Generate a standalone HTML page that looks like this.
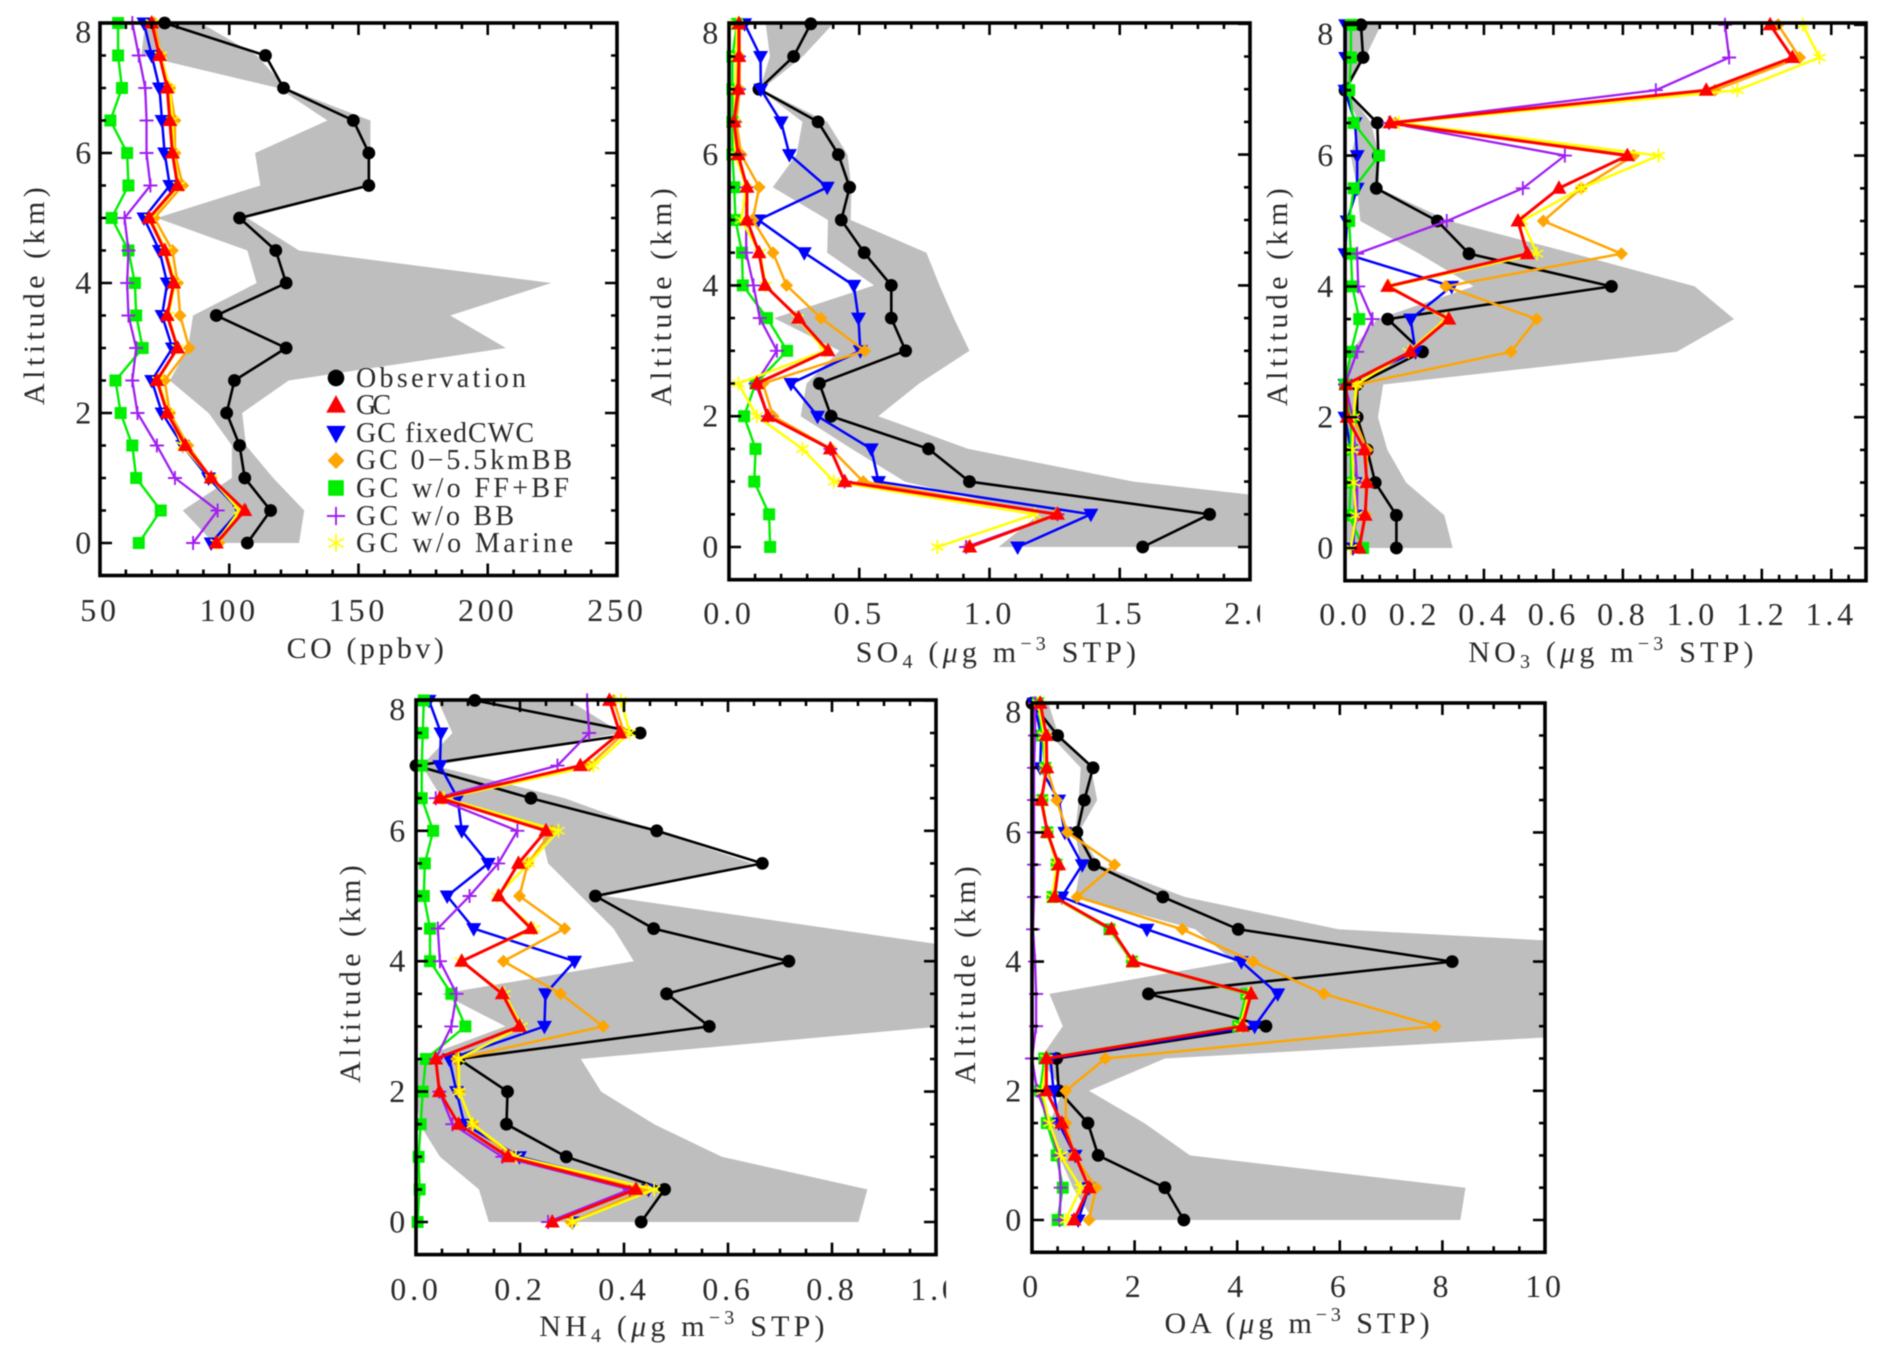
<!DOCTYPE html>
<html lang="en">
<head>
<meta charset="utf-8">
<title>Vertical profiles of CO, SO4, NO3, NH4 and OA</title>
<style>
  html, body { margin: 0; padding: 0; background: #fff; }
  #figure { display: block; filter: blur(0.45px); }
  text { font-family: "Liberation Serif", "DejaVu Serif", serif; fill: #2a2a2a; }
  .tick { font-size: 32px; letter-spacing: 3.8px; }
  .title { font-size: 30px; letter-spacing: 4.2px; }
  .legend { font-size: 28px; }
</style>
</head>
<body>
<svg id="figure" xmlns="http://www.w3.org/2000/svg" width="1892" height="1366" viewBox="0 0 1892 1366">
  <rect x="0" y="0" width="1892" height="1366" fill="#fff"/>
  <g id="panels"></g>

  <g>
    <text class="title" style="letter-spacing:3.5px" x="367" y="658" text-anchor="middle">CO (ppbv)</text>
    <text class="title" x="998" y="662" text-anchor="middle">SO<tspan font-size="20" dy="6">4</tspan><tspan dy="-6"> (</tspan><tspan font-style="italic">μ</tspan>g m<tspan font-size="20" dy="-12">−3</tspan><tspan dy="12"> STP)</tspan></text>
    <text class="title" x="1613" y="662" text-anchor="middle">NO<tspan font-size="20" dy="6">3</tspan><tspan dy="-6"> (</tspan><tspan font-style="italic">μ</tspan>g m<tspan font-size="20" dy="-12">−3</tspan><tspan dy="12"> STP)</tspan></text>
    <text class="title" x="684" y="1336" text-anchor="middle">NH<tspan font-size="20" dy="6">4</tspan><tspan dy="-6"> (</tspan><tspan font-style="italic">μ</tspan>g m<tspan font-size="20" dy="-12">−3</tspan><tspan dy="12"> STP)</tspan></text>
    <text class="title" style="letter-spacing:3.9px" x="1299" y="1333" text-anchor="middle">OA (<tspan font-style="italic">μ</tspan>g m<tspan font-size="20" dy="-12">−3</tspan><tspan dy="12"> STP)</tspan></text>
    <text class="title" transform="translate(44,294) rotate(-90)" text-anchor="middle" textLength="222">Altitude (km)</text>
    <text class="title" transform="translate(671,295) rotate(-90)" text-anchor="middle" textLength="222">Altitude (km)</text>
    <text class="title" transform="translate(1287,295) rotate(-90)" text-anchor="middle" textLength="222">Altitude (km)</text>
    <text class="title" transform="translate(360,972) rotate(-90)" text-anchor="middle" textLength="222">Altitude (km)</text>
    <text class="title" transform="translate(975,973) rotate(-90)" text-anchor="middle" textLength="222">Altitude (km)</text>
  </g>

  <g id="legend">
    <text class="legend" x="356" y="387" textLength="170">Observation</text>
    <text class="legend" x="356" y="414" textLength="35">GC</text>
    <text class="legend" x="356" y="442" textLength="178">GC fixedCWC</text>
    <text class="legend" x="356" y="469" textLength="216">GC 0−5.5kmBB</text>
    <text class="legend" x="356" y="497" textLength="213">GC w/o FF+BF</text>
    <text class="legend" x="356" y="525" textLength="158">GC w/o BB</text>
    <text class="legend" x="356" y="552" textLength="217">GC w/o Marine</text>
  </g>
</svg>

<script>
// Altitude levels (km), top of profile first
const altitudes = [8, 7.5, 7, 6.5, 6, 5.5, 5, 4.5, 4, 3.5, 3, 2.5, 2, 1.5, 1, 0.5, 0];

// Tick labels
const yTickLabels = ['0', '2', '4', '6', '8'];
const coTickLabels = ['50', '100', '150', '200', '250'];
const so4TickLabels = ['0.0', '0.5', '1.0', '1.5', '2.0'];
const no3TickLabels = ['0.0', '0.2', '0.4', '0.6', '0.8', '1.0', '1.2', '1.4'];
const nh4TickLabels = ['0.0', '0.2', '0.4', '0.6', '0.8', '1.0'];
const oaTickLabels = ['0', '2', '4', '6', '8', '10'];

// CO (ppbv)
const coObs = [75, 114, 121, 148, 154, 154, 104, 118, 122, 95, 122, 102, 99, 104, 106, 116, 107];
const coGc = [70, 73, 76, 77, 78, 80, 69, 75, 78.5, 76, 80, 72, 76, 83, 93, 106, 95];
const coFixed = [67, 70, 73, 74, 75, 77, 67, 73, 76, 74, 78, 70, 74, 82, 92, 104, 93];
const coBB = [71, 73.5, 77, 79, 79, 82, 71, 78, 80, 81, 84.5, 75, 77, 84, 93, 105, 96];
const coNoFF = [57, 57, 58.5, 54, 60.5, 61, 54.5, 61, 63.5, 64, 66.5, 56, 58, 62.5, 64, 73.5, 65];
const coNoBB = [62.5, 65, 67.5, 68, 68, 69.5, 59.5, 61, 60.5, 61, 64, 62.5, 64.5, 72, 79, 95.5, 86];
const coNoMarine = [70, 73.5, 77, 78, 78.5, 80.5, 69.5, 75.5, 79, 76.5, 80, 72.5, 76.5, 82, 93, 104, 95];
const coBandHigh = [89, 110.6, 122, 154.6, 154.6, 154.6, 107, 127, 224.6, 185.5, 207, 123, 105, 106.5, 117, 129, 127];
const coBandLow = [67.5, 66, 119, 138, 110, 112, 72, 107, 110.6, 86, 84, 77, 92, 101, 101, 82, 94];

// SO4 (ug m-3 STP)
const so4Obs = [.314, .248, .115, .342, .42, .463, .431, .519, .623, .623, .678, .347, .392, .766, .923, 1.845, 1.588];
const so4Gc = [.038, .038, .035, .019, .035, .069, .069, .115, .138, .267, .38, .107, .149, .389, .444, 1.261, .924];
const so4Fixed = [.06, .121, .122, .2, .232, .377, .113, .289, .479, .497, .504, .238, .34, .546, .574, 1.389, 1.108];
const so4BB = [.041, .041, .041, .028, .047, .116, .091, .169, .221, .353, .521, .13, .169, .392, .515, 1.255, .918];
const so4NoFF = [.031, .013, .013, .013, .013, .02, .025, .05, .053, .146, .223, .102, .058, .102, .097, .154, .158];
const so4NoBB = [.038, .038, .038, .019, .035, .066, .066, .066, .094, .118, .184, .102, .149, .389, .444, 1.261, .91];
const so4NoMarine = [.031, .028, .025, .019, .025, .066, .047, .119, .141, .264, .369, .036, .107, .282, .403, 1.174, .8];
const so4BandHigh = [.40, .283, .126, .377, .455, .47, .467, .758, .808, .863, .923, .73, .573, .918, 1.553, 2.67, 3.0];
const so4BandLow = [.141, .157, .118, .282, .259, .168, .38, .377, .557, .173, .424, .298, .275, .471, .675, 1.19, 1.035];

// NO3 (ug m-3 STP)
const no3Obs = [.046, .052, 0, .093, .096, .09, .266, .357, .767, .123, .223, .035, .035, .064, .087, .148, .148];
const no3Gc = [1.224, 1.288, 1.04, .13, .813, .616, .498, .525, .123, .299, .188, .003, .006, .056, .063, .058, .041];
const no3Fixed = [.002, .002, 0, .029, .035, .035, .006, 0, .307, .189, .203, 0, 0, .017, .029, .029, .023];
const no3BB = [1.247, 1.309, 1.065, .145, .831, .68, .571, .796, .29, .552, .478, .035, .025, .064, .06, .06, .041];
const no3NoFF = [.017, .017, .012, .025, .098, .025, .012, .017, .021, .041, .017, 0, .017, .017, .017, .012, .052];
const no3NoBB = [1.094, 1.106, .895, .127, .633, .512, .293, .035, .038, .079, .035, 0, .023, .029, .035, .035, .017];
const no3NoMarine = [1.318, 1.366, 1.13, .156, .903, .68, .51, .553, .13, .29, .183, .032, .025, .021, .025, .032, .017];
const no3BandHigh = [.104, .058, .006, .075, .098, .098, .30, .66, 1.007, 1.12, .955, .11, .095, .122, .176, .286, .31];
const no3BandLow = [0, 0, 0, .04, .017, .035, .044, .214, .37, .093, .014, .006, 0, 0, 0, 0, 0];

// NH4 (ug m-3 STP)
const nh4Obs = [.113, .431, 0, .221, .463, .666, .345, .457, .717, .482, .564, .082, .176, .174, .289, .478, .433];
const nh4Gc = [.372, .392, .316, .046, .25, .197, .159, .221, .088, .166, .199, .038, .045, .082, .177, .423, .262];
const nh4Fixed = [.025, .048, .046, .08, .088, .139, .06, .111, .305, .249, .247, .064, .078, .093, .199, .447, .301];
const nh4BB = [.38, .4, .333, .05, .262, .215, .199, .286, .168, .278, .36, .078, .083, .109, .184, .443, .298];
const nh4NoFF = [.015, .013, .011, .011, .033, .017, .015, .027, .027, .068, .095, .019, .013, .009, .005, .007, .003];
const nh4NoBB = [.329, .333, .272, .038, .195, .158, .103, .042, .046, .078, .068, .038, .045, .07, .166, .411, .254];
const nh4NoMarine = [.394, .411, .341, .054, .274, .217, .156, .227, .086, .17, .203, .082, .083, .109, .192, .458, .301];
const nh4BandHigh = [.294, .396, .035, .286, .458, .647, .364, .797, 1.23, 1.3, 1.01, .317, .356, .458, .588, .868, .851];
const nh4BandLow = [.042, .07, .011, .05, .239, .254, .317, .38, .419, .05, .172, .003, 0, .007, .046, .121, .14];

// OA (ug m-3 STP)
const oaObs = [0, .5, 1.19, 1.02, .875, 1.21, 2.55, 4.02, 8.19, 2.27, 4.56, .48, .52, 1.09, 1.29, 2.59, 2.96];
const oaGc = [.16, .28, .29, .18, .3, .52, .44, 1.55, 1.97, 4.27, 4.1, .28, .28, .58, .84, 1.11, .82];
const oaFixed = [.04, .18, .16, .52, .64, .98, .58, 2.24, 4.08, 4.79, 4.34, .36, .42, .52, .84, 1.11, .9];
const oaBB = [.16, .28, .29, .48, .69, 1.61, .88, 2.93, 4.31, 5.69, 7.86, 1.43, .66, .66, .82, 1.25, 1.11];
const oaNoFF = [.12, .2, .26, .2, .3, .48, .4, 1.51, 1.95, 4.18, 4.02, .24, .16, .29, .48, .6, .5];
const oaNoBB = [.06, .06, .04, .04, .04, .04, .04, .02, .06, .08, .08, 0, .1, .34, .52, .56, .54];
const oaNoMarine = [.12, .24, .26, .2, .3, .48, .4, 1.54, 1.95, 4.22, 4.06, .28, .2, .34, .56, .95, .66];
const oaBandHigh = [.32, .52, 1.15, 1.27, .91, 1.31, 2.98, 5.97, 17.7, 20, 14, 2.59, 1.11, 2.19, 3.08, 8.45, 8.35];
const oaBandLow = [.12, .36, .95, .91, .84, .95, .84, 3.18, 3.94, .34, .6, .16, .6, .34, .52, .8, 1.19];

const NS = 'http://www.w3.org/2000/svg';

function el(tag, attrs, parent) {
  const node = document.createElementNS(NS, tag);
  for (const k in attrs) node.setAttribute(k, attrs[k]);
  parent.appendChild(node);
  return node;
}

function drawMarker(kind, x, y, color, s, parent) {
  if (kind === 'circle') return el('circle', { cx: x, cy: y, r: 6.4 * s, fill: color }, parent);
  if (kind === 'tri-up') return el('polygon', { points: `${x - 7.5 * s},${y + 5.5 * s} ${x + 7.5 * s},${y + 5.5 * s} ${x},${y - 8 * s}`, fill: color }, parent);
  if (kind === 'tri-down') return el('polygon', { points: `${x - 7.5 * s},${y - 5.5 * s} ${x + 7.5 * s},${y - 5.5 * s} ${x},${y + 8 * s}`, fill: color }, parent);
  if (kind === 'diamond') return el('polygon', { points: `${x - 6.5 * s},${y} ${x},${y - 6.5 * s} ${x + 6.5 * s},${y} ${x},${y + 6.5 * s}`, fill: color }, parent);
  if (kind === 'square') return el('rect', { x: x - 6 * s, y: y - 6 * s, width: 12 * s, height: 12 * s, fill: color }, parent);
  if (kind === 'plus') {
    const r = 7 * s;
    return el('path', { d: `M${x - r} ${y}H${x + r}M${x} ${y - r}V${y + r}`, stroke: color, 'stroke-width': 1.9, fill: 'none' }, parent);
  }
  const r = 7 * s, dx = r * 0.866, dy = r * 0.5;
  return el('path', { d: `M${x} ${y - r}V${y + r}M${x - dx} ${y - dy}L${x + dx} ${y + dy}M${x - dx} ${y + dy}L${x + dx} ${y - dy}`, stroke: color, 'stroke-width': 1.7, fill: 'none' }, parent);
}

// Series styling, in drawing order
const seriesStyles = [
  { key: 'obs', slug: 'observation', color: '#000000', width: 2.6, marker: 'circle' },
  { key: 'fixed', slug: 'gc-fixedcwc', color: '#0000ff', width: 2.5, marker: 'tri-down' },
  { key: 'bb', slug: 'gc-0-5-5kmbb', color: '#ffa500', width: 2.5, marker: 'diamond' },
  { key: 'noFF', slug: 'gc-wo-ff-bf', color: '#00ee00', width: 2.4, marker: 'square' },
  { key: 'noBB', slug: 'gc-wo-bb', color: '#a020f0', width: 2.3, marker: 'plus' },
  { key: 'noMarine', slug: 'gc-wo-marine', color: '#ffff00', width: 2.5, marker: 'star' },
  { key: 'gc', slug: 'gc', color: '#ff0000', width: 3, marker: 'tri-up' }
];

// Panel layout and data bindings
const panels = [
  { id: 'co', left: 100, right: 617, top: 23, y0: 543, km: 65, xMin: 50, xMax: 250, minor: 10, major: 50, labels: coTickLabels, tickY: 621, labelRight: 95, clipX: 660,
    obs: coObs, gc: coGc, fixed: coFixed, bb: coBB, noFF: coNoFF, noBB: coNoBB, noMarine: coNoMarine, high: coBandHigh, low: coBandLow },
  { id: 'so4', left: 729, right: 1250, top: 23, y0: 547, km: 65.4, xMin: 0, xMax: 2, minor: 0.1, major: 0.5, labels: so4TickLabels, tickY: 624, labelRight: 722, clipX: 1260,
    obs: so4Obs, gc: so4Gc, fixed: so4Fixed, bb: so4BB, noFF: so4NoFF, noBB: so4NoBB, noMarine: so4NoMarine, high: so4BandHigh, low: so4BandLow },
  { id: 'no3', left: 1345, right: 1866, top: 23, y0: 548, km: 65.4, xMin: 0, xMax: 1.5, minor: 0.05, major: 0.2, labels: no3TickLabels, tickY: 625, labelRight: 1337, clipX: 1892,
    obs: no3Obs, gc: no3Gc, fixed: no3Fixed, bb: no3BB, noFF: no3NoFF, noBB: no3NoBB, noMarine: no3NoMarine, high: no3BandHigh, low: no3BandLow },
  { id: 'nh4', left: 416, right: 936, top: 700, y0: 1222, km: 65.2, xMin: 0, xMax: 1, minor: 0.05, major: 0.2, labels: nh4TickLabels, tickY: 1300, labelRight: 409, clipX: 946,
    obs: nh4Obs, gc: nh4Gc, fixed: nh4Fixed, bb: nh4BB, noFF: nh4NoFF, noBB: nh4NoBB, noMarine: nh4NoMarine, high: nh4BandHigh, low: nh4BandLow },
  { id: 'oa', left: 1032, right: 1545, top: 703, y0: 1220, km: 64.6, xMin: 0, xMax: 10, minor: 0.5, major: 2, labels: oaTickLabels, tickY: 1297, labelRight: 1025, clipX: 1892,
    obs: oaObs, gc: oaGc, fixed: oaFixed, bb: oaBB, noFF: oaNoFF, noBB: oaNoBB, noMarine: oaNoMarine, high: oaBandHigh, low: oaBandLow }
];

const svg = document.getElementById('figure');
const root = document.getElementById('panels');
const defs = el('defs', {}, svg);

panels.forEach(function (p) {
  const bottom = p.y0 + 0.5 * p.km;
  const xs = v => p.left + (v - p.xMin) / (p.xMax - p.xMin) * (p.right - p.left);
  const ys = a => p.y0 - a * p.km;

  const clip = el('clipPath', { id: 'clip-' + p.id }, defs);
  el('rect', { x: p.left, y: p.top, width: p.right - p.left, height: bottom - p.top }, clip);
  const labelClip = el('clipPath', { id: 'label-clip-' + p.id }, defs);
  el('rect', { x: p.left - 60, y: bottom, width: p.clipX - p.left + 60, height: 70 }, labelClip);

  const g = el('g', {}, root);
  
  

  // Grey observation range band
  const upper = altitudes.map((a, i) => `${xs(p.high[i])},${ys(a)}`);
  const lower = altitudes.map((a, i) => `${xs(p.low[i])},${ys(a)}`).reverse();
  const band = el('polygon', { points: upper.concat(lower).join(' '), fill: '#bebebe', 'clip-path': `url(#clip-${p.id})` }, g);
  
  

  // Series lines and markers
  seriesStyles.forEach(function (s) {
    const values = p[s.key];
    const pts = altitudes.map((a, i) => `${xs(values[i])},${ys(a)}`).join(' ');
    const sg = el('g', {}, g);
    
    
    const line = el('polyline', { points: pts, fill: 'none', stroke: s.color, 'stroke-width': s.width, 'stroke-linejoin': 'miter' }, sg);
    
    
    altitudes.forEach(function (a, i) {
      const m = drawMarker(s.marker, xs(values[i]), ys(a), s.color, 1, sg);
      
      
    });
  });

  // Ticks on all four sides
  const ticks = el('g', { stroke: '#000', 'stroke-width': 2.6, fill: 'none' }, g);
  
  
  let d = '';
  const nX = Math.round((p.xMax - p.xMin) / p.minor);
  for (let i = 0; i <= nX; i++) {
    const v = p.xMin + i * p.minor;
    const isMajor = Math.abs(v / p.major - Math.round(v / p.major)) < 1e-6;
    const len = isMajor ? 12 : 6;
    const x = xs(v);
    d += `M${x} ${bottom}V${bottom - len}M${x} ${p.top}V${p.top + len}`;
  }
  for (let a = 0; a <= 8; a += 0.5) {
    const len = a % 2 === 0 ? 12 : 6;
    const y = ys(a);
    d += `M${p.left} ${y}H${p.left + len}M${p.right} ${y}H${p.right - len}`;
  }
  el('path', { d: d }, ticks);

  // Frame
  const frame = el('rect', { x: p.left, y: p.top, width: p.right - p.left, height: bottom - p.top, fill: 'none', stroke: '#000', 'stroke-width': 3.6 }, g);
  
  

  // X tick labels
  const xLabels = el('g', { 'clip-path': `url(#label-clip-${p.id})` }, g);
  
  
  p.labels.forEach(function (label, i) {
    const t = el('text', { class: 'tick', x: xs(p.xMin + i * p.major), y: p.tickY, 'text-anchor': 'middle' }, xLabels);
    t.textContent = label;
    
    
  });

  // Y tick labels (the topmost label sits lower, below the frame corner)
  const yLabels = el('g', {}, g);
  
  
  yTickLabels.forEach(function (label, i) {
    const topShift = i === yTickLabels.length - 1 ? 9 : 0;
    const t = el('text', { class: 'tick', x: p.labelRight, y: ys(i * 2) + 10.5 + topShift, 'text-anchor': 'end' }, yLabels);
    t.textContent = label;
    
    
  });
});

// Legend swatches (labels are inline in the SVG)
const legendGroup = document.getElementById('legend');
const legendOrder = ['obs', 'gc', 'fixed', 'bb', 'noFF', 'noBB', 'noMarine'];
const legendRowY = [378, 405.5, 433, 460.5, 488, 516, 543];
legendOrder.forEach(function (key, i) {
  const s = seriesStyles.find(x => x.key === key);
  const swatch = drawMarker(s.marker, 336, legendRowY[i], s.color, 1.3, legendGroup);
  
  
});
</script>
</body>
</html>
